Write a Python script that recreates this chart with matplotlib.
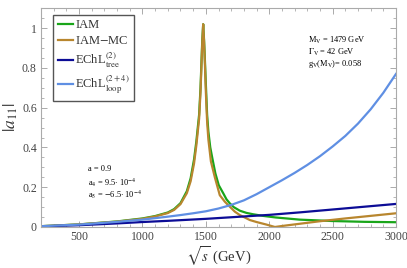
import matplotlib
matplotlib.use("Agg")
import matplotlib.pyplot as plt
from matplotlib.ticker import MultipleLocator

plt.rcParams['font.family'] = ['Liberation Serif', 'DejaVu Serif']
plt.rcParams['mathtext.fontset'] = 'stix'

# ---- data ----
iam_E = [200, 500, 800, 1000, 1100, 1200, 1250, 1300, 1350, 1380, 1407, 1425, 1447,
         1458, 1466, 1472, 1479, 1486, 1492, 1500, 1510, 1520, 1535, 1550, 1575, 1602,
         1637, 1663, 1689, 1720, 1768, 1820, 1873, 1950, 2050, 2241, 2500, 2750, 3000]
iam_a = [0.004, 0.013, 0.028, 0.043, 0.055, 0.073, 0.090, 0.120, 0.180, 0.245, 0.340,
         0.430, 0.565, 0.700, 0.840, 0.940, 1.020, 0.940, 0.850, 0.720, 0.565, 0.480,
         0.400, 0.350, 0.270, 0.210, 0.170, 0.139, 0.119, 0.100, 0.082, 0.071, 0.064,
         0.056, 0.048, 0.037, 0.030, 0.026, 0.024]

mc_E = [200, 500, 800, 1000, 1100, 1200, 1250, 1300, 1350, 1380, 1407, 1425, 1447,
        1458, 1466, 1472, 1479, 1486, 1492, 1500, 1510, 1520, 1540, 1571, 1610, 1650,
        1689, 1729, 1768, 1800, 1847, 1900, 1979, 2045, 2100, 2200, 2400, 2600, 2800, 3000]
mc_a = [0.004, 0.013, 0.027, 0.041, 0.053, 0.070, 0.086, 0.115, 0.170, 0.230, 0.320,
        0.410, 0.545, 0.680, 0.820, 0.930, 1.020, 0.930, 0.830, 0.680, 0.530, 0.440,
        0.330, 0.250, 0.160, 0.127, 0.102, 0.077, 0.060, 0.050, 0.035, 0.025, 0.012,
        0.000, 0.005, 0.013, 0.029, 0.043, 0.056, 0.069]

tree_E = [200, 500, 800, 1000, 1200, 1500, 1700, 2000, 2250, 2500, 2750, 3000]
tree_a = [0.003, 0.009, 0.018, 0.025, 0.031, 0.041, 0.049, 0.061, 0.074, 0.088, 0.102, 0.116]

loop_E = [200, 500, 800, 1000, 1200, 1300, 1400, 1500, 1600, 1700, 1800, 1900, 2000,
          2100, 2200, 2300, 2400, 2500, 2600, 2700, 2800, 2900, 3000]
loop_a = [0.004, 0.012, 0.026, 0.037, 0.052, 0.060, 0.069, 0.079, 0.093, 0.111, 0.134,
          0.165, 0.200, 0.235, 0.272, 0.312, 0.356, 0.405, 0.458, 0.520, 0.592, 0.675,
          0.770]

labels = ["IAM", "IAM$-$MC", r"EChL$^{(2)}_{\rm tree}$", r"EChL$^{(2+4)}_{\rm loop}$"]
colors = ["#19a519", "#b8862e", "#0c0c96", "#5f8fe3"]

fig = plt.figure(figsize=(4.07, 2.68), dpi=100)
ax = fig.add_axes([0.1008, 0.153, 0.8722, 0.816])

ax.plot(iam_E, iam_a, color=colors[0], lw=1.6, label=labels[0])
ax.plot(mc_E, mc_a, color=colors[1], lw=1.6, label=labels[1])
ax.plot(tree_E, tree_a, color=colors[2], lw=1.6, label=labels[2])
ax.plot(loop_E, loop_a, color=colors[3], lw=1.6, label=labels[3])

ax.set_xlim(200, 3000)
ax.set_ylim(0, 1.1)
ax.xaxis.set_major_locator(MultipleLocator(500))
ax.xaxis.set_minor_locator(MultipleLocator(100))
ax.yaxis.set_major_locator(MultipleLocator(0.2))
ax.yaxis.set_minor_locator(MultipleLocator(0.05))
ax.set_yticks([0, 0.2, 0.4, 0.6, 0.8, 1.0])
ax.set_yticklabels(["0", "0.2", "0.4", "0.6", "0.8", "1"])
ax.set_xticks([500, 1000, 1500, 2000, 2500, 3000])
ax.set_xticklabels(["500", "1000", "1500", "2000", "2500", "3000"])

for sp in ax.spines.values():
    sp.set_color("#aaaaaa")
    sp.set_linewidth(0.8)
ax.tick_params(which='both', direction='in', top=True, right=True, color="#aaaaaa",
               labelcolor="#444444", labelsize=8.5, pad=3)
ax.tick_params(which='major', length=4, width=0.7)
ax.tick_params(which='minor', length=2, width=0.6)

ax.set_xlabel(r"$\sqrt{s}$ (GeV)", fontsize=10.5, color="#333333")
ax.xaxis.set_label_coords(0.5, -0.08)
ax.set_ylabel(r"$|a_{11}|$", fontsize=12.5, color="#333333")
ax.yaxis.set_label_coords(-0.058, 0.5)

leg = ax.legend(loc='upper left', bbox_to_anchor=(0.035, 0.97), borderaxespad=0,
                fontsize=9, handlelength=1.2, handletextpad=0.2, labelspacing=0.3,
                borderpad=0.35, fancybox=False, framealpha=1)
leg.get_frame().set_edgecolor("#555555")
leg.get_frame().set_linewidth(1.0)
for t in leg.get_texts():
    t.set_color("#333333")

fs = 6
ax.text(0.752, 0.855, r"M$_{\rm V}$ = 1479 GeV", transform=ax.transAxes, fontsize=fs, va='center')
ax.text(0.752, 0.800, r"$\Gamma_{\rm V}$ = 42 GeV", transform=ax.transAxes, fontsize=fs, va='center')
ax.text(0.752, 0.745, r"g$_{\rm V}$(M$_{\rm V}$)= 0.058", transform=ax.transAxes, fontsize=fs, va='center')

ax.text(0.131, 0.265, r"a = 0.9", transform=ax.transAxes, fontsize=fs, va='center')
ax.text(0.131, 0.204, r"a$_4$ = 9.5$\cdot$ 10$^{-4}$", transform=ax.transAxes, fontsize=fs, va='center')
ax.text(0.131, 0.146, r"a$_5$ = $-$6.5$\cdot$ 10$^{-4}$", transform=ax.transAxes, fontsize=fs, va='center')

fig.savefig("out.png", dpi=100)
